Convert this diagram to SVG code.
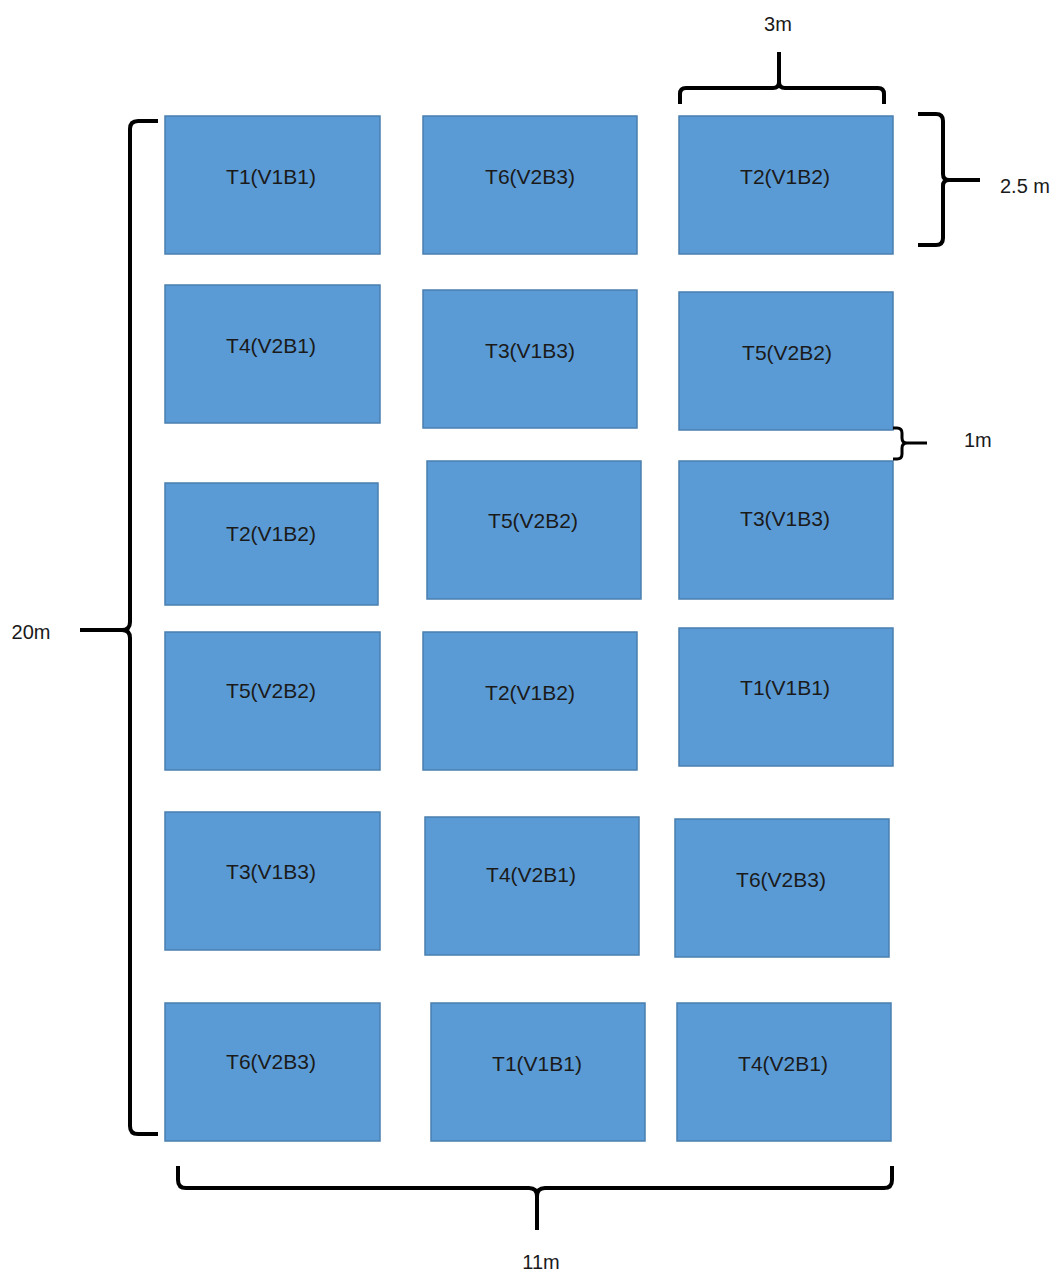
<svg xmlns="http://www.w3.org/2000/svg" width="1064" height="1278" viewBox="0 0 1064 1278">
<style>
.plot{fill:#5B9BD5;stroke:#4A7FB0;stroke-width:1.5}
.lbl{font-family:"Liberation Sans",Arial,sans-serif;font-size:21px;fill:#1a1a1a;text-anchor:middle;dominant-baseline:central}
.dim{font-family:"Liberation Sans",Arial,sans-serif;font-size:20px;fill:#1a1a1a;dominant-baseline:central}
.br{fill:none;stroke:#000;stroke-width:4;stroke-linejoin:round;stroke-linecap:butt}
</style>
<rect width="1064" height="1278" fill="#fff"/>
<g id="r1a"><rect class="plot" x="165" y="116" width="215" height="138"/><text class="lbl" x="271" y="176">T1(V1B1)</text></g>
<g id="r1b"><rect class="plot" x="423" y="116" width="214" height="138"/><text class="lbl" x="530" y="176">T6(V2B3)</text></g>
<g id="r1c"><rect class="plot" x="679" y="116" width="214" height="138"/><text class="lbl" x="785" y="176">T2(V1B2)</text></g>
<g id="r2a"><rect class="plot" x="165" y="285" width="215" height="138"/><text class="lbl" x="271" y="345">T4(V2B1)</text></g>
<g id="r2b"><rect class="plot" x="423" y="290" width="214" height="138"/><text class="lbl" x="530" y="350">T3(V1B3)</text></g>
<g id="r2c"><rect class="plot" x="679" y="292" width="214" height="138"/><text class="lbl" x="787" y="352">T5(V2B2)</text></g>
<g id="r3a"><rect class="plot" x="165" y="483" width="213" height="122"/><text class="lbl" x="271" y="533">T2(V1B2)</text></g>
<g id="r3b"><rect class="plot" x="427" y="461" width="214" height="138"/><text class="lbl" x="533" y="520">T5(V2B2)</text></g>
<g id="r3c"><rect class="plot" x="679" y="461" width="214" height="138"/><text class="lbl" x="785" y="518">T3(V1B3)</text></g>
<g id="r4a"><rect class="plot" x="165" y="632" width="215" height="138"/><text class="lbl" x="271" y="690">T5(V2B2)</text></g>
<g id="r4b"><rect class="plot" x="423" y="632" width="214" height="138"/><text class="lbl" x="530" y="692">T2(V1B2)</text></g>
<g id="r4c"><rect class="plot" x="679" y="628" width="214" height="138"/><text class="lbl" x="785" y="687">T1(V1B1)</text></g>
<g id="r5a"><rect class="plot" x="165" y="812" width="215" height="138"/><text class="lbl" x="271" y="871">T3(V1B3)</text></g>
<g id="r5b"><rect class="plot" x="425" y="817" width="214" height="138"/><text class="lbl" x="531" y="874">T4(V2B1)</text></g>
<g id="r5c"><rect class="plot" x="675" y="819" width="214" height="138"/><text class="lbl" x="781" y="879">T6(V2B3)</text></g>
<g id="r6a"><rect class="plot" x="165" y="1003" width="215" height="138"/><text class="lbl" x="271" y="1061">T6(V2B3)</text></g>
<g id="r6b"><rect class="plot" x="431" y="1003" width="214" height="138"/><text class="lbl" x="537" y="1063">T1(V1B1)</text></g>
<g id="r6c"><rect class="plot" x="677" y="1003" width="214" height="138"/><text class="lbl" x="783" y="1063">T4(V2B1)</text></g>
<g id="connectors">
<path class="br" d="M158,121 H138 Q130,121 130,129 V622 Q130,630 122,630 H80 M122,630 Q130,630 130,638 V1126 Q130,1134 138,1134 H158"/>
<path class="br" d="M680,104 V94 Q680,88 686,88 H773 Q779,88 779,82 V52 M779,82 Q779,88 785,88 H878 Q884,88 884,94 V104"/>
<path class="br" d="M918,114 H936 Q943,114 943,121 V174 Q943,180 949,180 H980 M949,180 Q943,180 943,186 V238 Q943,245 936,245 H918"/>
<path class="br" d="M893,428 H897 Q902,428 902,433 V438 Q902,443 907,443 H927 M907,443 Q902,443 902,448 V454 Q902,459 897,459 H893" style="stroke-width:3"/>
<path class="br" d="M178,1166 V1180 Q178,1188 186,1188 H529 Q537,1188 537,1196 V1230 M537,1196 Q537,1188 545,1188 H884 Q892,1188 892,1180 V1166"/>
</g>
<text class="dim" x="778" y="24" text-anchor="middle">3m</text>
<text class="dim" x="1000" y="186">2.5 m</text>
<text class="dim" x="964" y="440">1m</text>
<text class="dim" x="31" y="632" text-anchor="middle">20m</text>
<text class="dim" x="541" y="1262" text-anchor="middle">11m</text>
</svg>
